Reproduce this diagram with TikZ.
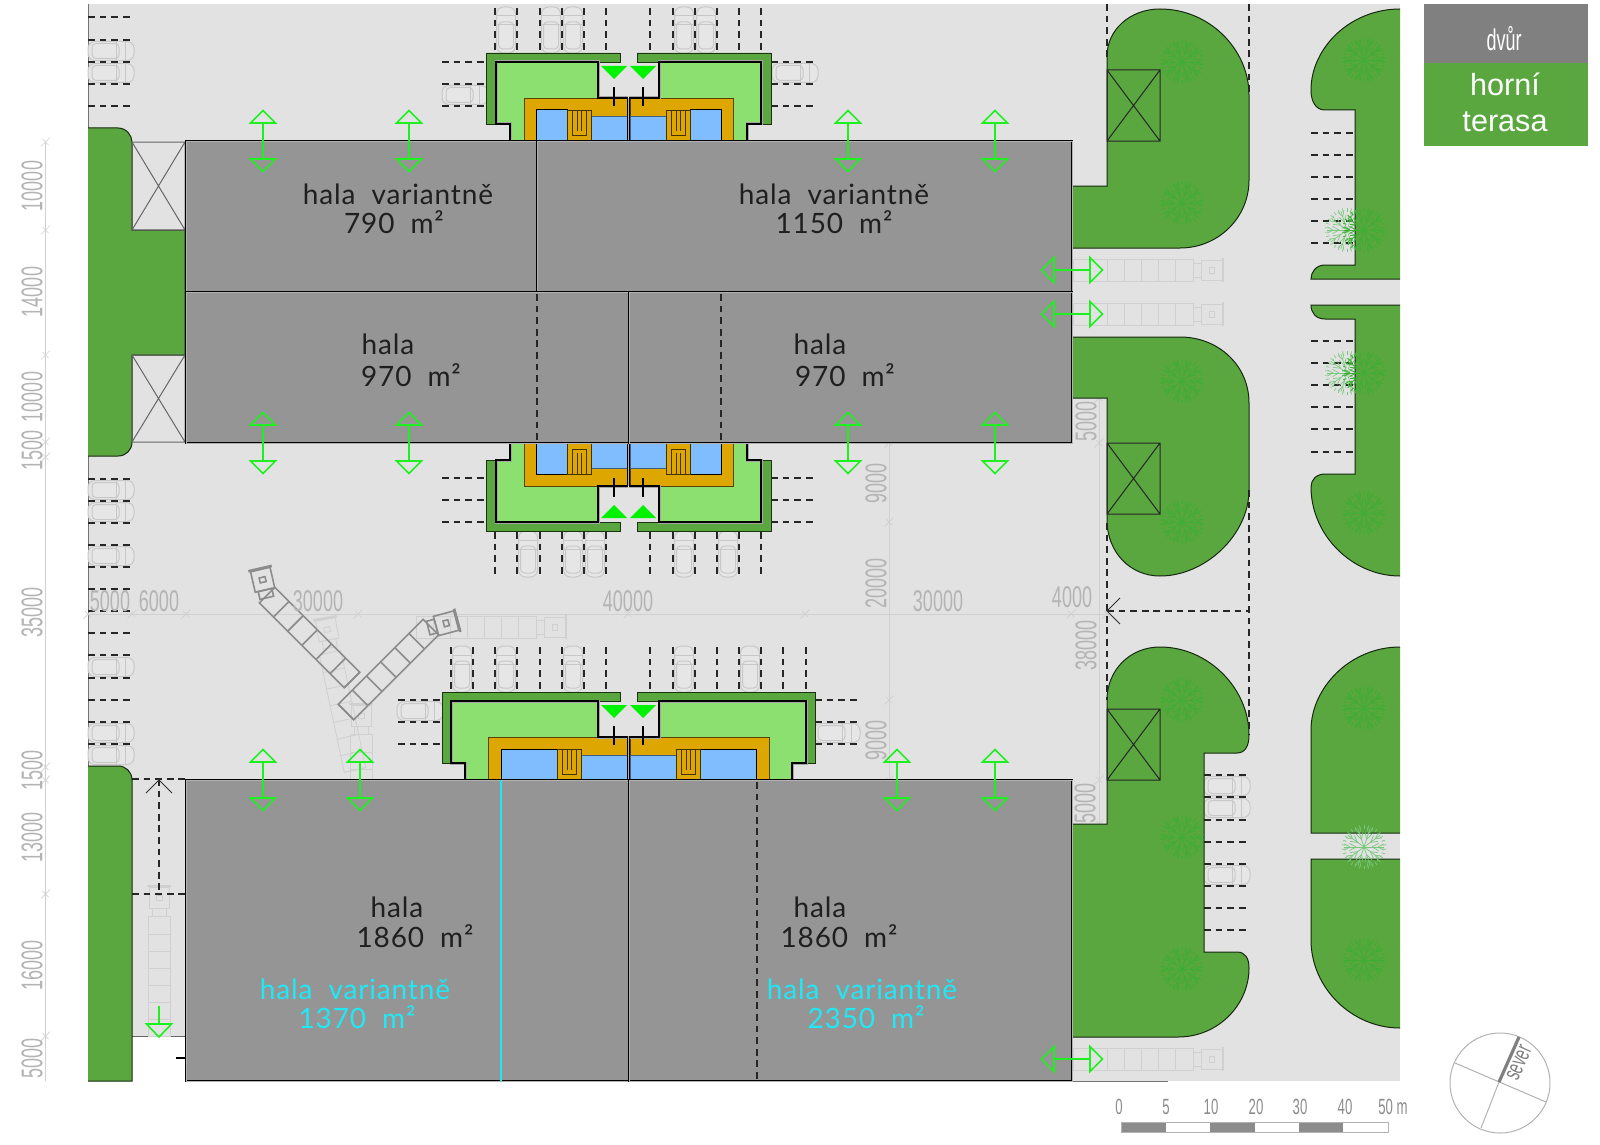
\documentclass[tikz,border=0pt]{standalone}
\usepackage{fontspec}
\newfontfamily\halafont[LetterSpace=3,WordSpace=2]{Lato}
\newfontfamily\kotafont[FakeStretch=0.6]{Liberation Sans}
\setmainfont{Liberation Sans}
\definecolor{plocha}{HTML}{E2E2E2}
\definecolor{zelen}{HTML}{5AA63F}
\definecolor{svetla}{HTML}{8BE070}
\definecolor{oranz}{HTML}{DDA600}
\definecolor{modra}{HTML}{80BDFF}
\definecolor{hala}{HTML}{959595}
\definecolor{sipka}{HTML}{1EEF1E}
\definecolor{kota}{HTML}{B4B4B4}
\definecolor{bleda}{HTML}{D0D0D0}
\definecolor{autoline}{HTML}{C8C8C8}
\definecolor{strom}{HTML}{3FAE35}
\definecolor{bledystrom}{HTML}{78C87C}
\definecolor{cyan}{HTML}{20E8F5}
\tikzset{
park/.style={black!85,line width=.6pt,dash pattern=on 3.4pt off 2.4pt},
zahon/.style={fill=zelen,draw=black!75!zelen,line width=.5pt},
halabox/.style={fill=hala,draw=black,line width=.42pt,double=black!30,double distance=.4pt},
cislo/.style={font=\kotafont\fontsize{15}{15}\selectfont,text=kota,inner sep=0pt},
napis/.style={font=\halafont\fontsize{14}{14}\selectfont,text=black!88,inner sep=0pt},
krizek/.style={line width=.5pt},
dvere/.style={sipka,line width=.8pt},
car/.pic={
\draw[rounded corners=3.5pt,fill=plocha!85!white] (-23,-9.5) rectangle (23,9.5);
\draw[rounded corners=2pt] (-19,-7.5) rectangle (8,7.5);
\draw (5,-9.5) -- (5,9.5) (14,-9) -- (14,9);
},
pics/trailer/.style={code={
\draw (0,-11) rectangle (120,11);
\foreach \k in {0,#1,...,105} \draw (\k,-11) -- (\k,11);
}},
cab/.pic={
\draw (-8,-7) rectangle (0,7);
\draw (0,-10) rectangle (21,10);
\draw[line width=1.3pt] (22,-12) -- (22,12);
\draw (8,-3) rectangle (13,3);
},
truck/.pic={
\pic[transform shape] at (0,0) {trailer=17};
\pic[transform shape] at (128,0) {cab};
},
tree/.pic={
\foreach \a in {0,36,...,324}{
\draw (0,0) -- (\a:20);
\draw (\a:8) -- ({\a+14}:15) (\a:8) -- ({\a-14}:15) (\a:14) -- ({\a+9}:20) (\a:14) -- ({\a-9}:20);
}
\foreach \a in {6,18,...,354} \draw (\a:18.5) -- (\a:22);
},
door/.pic={
\draw[dvere] (0,-18) -- (0,18);
\draw[dvere] (-12.5,-18) -- (12.5,-18) -- (0,-30.5) -- cycle;
\draw[dvere] (-12.5,18) -- (12.5,18) -- (0,30.5) -- cycle;
},
tick/.pic={
\draw[bleda,line width=.35pt] (-4.5,4.5) -- (4.5,-4.5) (-3,-3) -- (3,3);
}
}
% half of an entrance court, left side; y counts up from the hall edge
\newcommand{\courtside}[6]{
\filldraw[fill=zelen,draw=black!70!zelen,line width=.4pt] (#1,-88) -- (620,-88) -- (620,-79) -- (#2,-79) -- (#2,-17) -- (#1,-17) -- cycle;
\fill[svetla] (#2,-79) -- (598,-79) -- (598,-44) -- (628,-44) -- (628,0) -- (#3,0) -- (#3,-17) -- (#2,-17) -- cycle;
\filldraw[fill=oranz,draw=black!60!oranz,line width=.4pt] (#4,-43) rectangle (627,0);
\filldraw[fill=modra,draw=black,line width=.5pt] (#5,-31) rectangle (#6,0);
\filldraw[fill=modra,draw=black!50!modra,line width=.4pt] ({#6+24},-25) rectangle (627,0);
\draw[black!70!oranz,line width=.4pt] (#6,-31) rectangle ({#6+24},0);
\draw[black!70!oranz,line width=.4pt] ({#6+5},-31) -- ({#6+5},-6) -- ({#6+19},-6) -- ({#6+19},-31) ({#6+10},-31) -- ({#6+10},-10) ({#6+14},-31) -- ({#6+14},-10);
\draw[black!35,line width=1.5pt] (#3,0) -- (#3,-17) -- (#2,-17) -- (#2,-79) -- (598,-79) -- (598,-43) -- (628,-43);
\draw[black,line width=.8pt] (#3,0) -- (#3,-17) -- (#2,-17) -- (#2,-79) -- (598,-79) -- (598,-43) -- (628,-43);
\fill[green!95!black] (601,-75) -- (627,-75) -- (614,-62) -- cycle;
\draw[black,line width=.7pt] (614,-54) -- (614,-35);
}
\newcommand{\court}[6]{
\courtside{#1}{#2}{#3}{#4}{#5}{#6}
\begin{scope}[shift={(1257,0)},xscale=-1]
\courtside{#1}{#2}{#3}{#4}{#5}{#6}
\end{scope}
}
\begin{document}
\begin{tikzpicture}[x=.5pt,y=-.5pt]
\useasboundingbox (0,0) rectangle (1600,1145);
% site
\fill[plocha] (88,4) rectangle (1400,1081);
\draw[black!55,line width=.5pt] (88,4) -- (88,768);
\fill[white] (132,1036) rectangle (185,1081);
\draw[black!60,line width=.4pt] (132,1036) -- (185,1036);
\draw[black!55,line width=.5pt] (1072,1081) -- (1168,1081);
% dimension lines
\draw[bleda,line width=.5pt] (45.5,142) -- (45.5,1081);
\draw[bleda,line width=.5pt] (88,614) -- (1107,614);
\draw[bleda,line width=.5pt] (889,443) -- (889,780);
\draw[bleda,line width=.5pt] (1099,398) -- (1099,824);
\foreach \y in {142,230,355,442,457,767,780,894,1036} \pic at (45.5,\y) {tick};
\foreach \x in {88,132,186,358,628,805,1071,1107} \pic at (\x,614) {tick};
\foreach \y in {443,522,700,780} \pic at (889,\y) {tick};
\foreach \y in {398,443,780,824} \pic at (1099,\y) {tick};
% cars
\foreach \x/\y in {111/51,111/73,111/490,111/512,111/556,111/667,111/733,111/755,465/95,795/73,420/711,837/733,1227/786,1227/808,1227/875}
\pic[autoline,line width=.5pt] at (\x,\y) {car};
\foreach \x/\y in {506/30,551/30,573/30,684/30,706/30,528/554,573/554,595/554,684/554,728/554,462/669,506/669,573/669,684/669,750/669}
\pic[autoline,line width=.5pt,rotate=90] at (\x,\y) {car};
% parking
\foreach \y in {17,40,62,84,106,479,501,523,545,567,589,611,633,655,678,700,722,744} \draw[park] (88,\y) -- (133,\y);
\foreach \x in {495,517,540,562,584,606,650,673,695,717,739,761}{
\draw[park] (\x,8) -- (\x,53);
\draw[park] (\x,532) -- (\x,576);
}
\foreach \x in {451,473,495,517,540,562,584,606,650,673,695,717,739,761,783,806} \draw[park] (\x,647) -- (\x,691);
\foreach \y in {62,84,106,478,500,522}{
\draw[park] (442,\y) -- (486,\y);
\draw[park] (771,\y) -- (815,\y);
}
\foreach \y in {700,722,744}{
\draw[park] (398,\y) -- (442,\y);
\draw[park] (815,\y) -- (859,\y);
}
\foreach \y in {775,797,820,842,864,886,908,930} \draw[park] (1204,\y) -- (1249,\y);
\foreach \y in {133,155,177,199,221,243,341,363,385,407,429,452} \draw[park] (1311,\y) -- (1355,\y);
% trucks
\foreach \y in {270,314,1059} \pic[bleda,line width=.4pt] at (1073,\y) {truck};
\pic[bleda,line width=.4pt] at (416,627) {truck};
\pic[bleda,line width=.4pt,rotate=90] at (159,1036) {truck};
\pic[bleda,line width=.4pt,rotate=102] at (355,770) {trailer=17};
\pic[bleda,line width=.4pt,rotate=100] at (329,640) {cab};
\pic[bleda,line width=.4pt,rotate=90] at (361,854) {truck};
\pic[black!45,line width=.8pt,rotate=135] at (352,680) {trailer=20};
\pic[black!45,line width=.8pt,rotate=103] at (265,590) {cab};
\pic[black!45,line width=.8pt,rotate=45] at (346,712) {trailer=20};
\pic[black!45,line width=.8pt,rotate=15] at (436,626) {cab};
% pale trees, partly under the beds
\foreach \x/\y in {1347/230,1347/373}
\pic[bledystrom,line width=.3pt] at (\x,\y) {tree};
% green beds
\filldraw[zahon] (88,128) -- (118,128) .. controls (126,128) and (132,135) .. (132,142) -- (132,230) -- (185,230) -- (185,355) -- (132,355) -- (132,442) .. controls (132,450) and (126,456) .. (118,456) -- (88,456);
\filldraw[zahon] (88,766) -- (118,766) .. controls (126,766) and (132,772) .. (132,780) -- (132,1081) -- (88,1081);
\filldraw[zahon] (1107,56) .. controls (1107,30) and (1130,9) .. (1160,9) .. controls (1210,9) and (1249,50) .. (1249,95) -- (1249,180) .. controls (1249,218) and (1218,248) .. (1180,248) -- (1072,248) -- (1072,186) -- (1107,186) -- cycle;
\filldraw[zahon] (1072,337) -- (1180,337) .. controls (1218,337) and (1249,365) .. (1249,403) -- (1249,490) .. controls (1249,535) and (1205,576) .. (1160,576) .. controls (1130,576) and (1107,552) .. (1107,520) -- (1107,398) -- (1072,398) -- cycle;
\filldraw[zahon] (1072,824) -- (1107,824) -- (1107,700) .. controls (1107,670) and (1130,647) .. (1160,647) .. controls (1208,647) and (1249,688) .. (1249,735) .. controls (1249,746) and (1245,753) .. (1237,753) -- (1204,753) -- (1204,952) -- (1237,952) .. controls (1245,952) and (1249,958) .. (1249,968) .. controls (1249,1005) and (1218,1037) .. (1178,1037) -- (1072,1037) -- cycle;
\filldraw[zahon] (1400,9) .. controls (1350,9) and (1311,48) .. (1311,90) .. controls (1311,102) and (1316,110) .. (1325,110) -- (1355,110) -- (1355,265) -- (1325,265) .. controls (1316,265) and (1311,272) .. (1311,279) -- (1400,279);
\filldraw[zahon] (1400,305) -- (1311,305) .. controls (1311,313) and (1316,319) .. (1325,319) -- (1355,319) -- (1355,474) -- (1325,474) .. controls (1316,474) and (1311,480) .. (1311,487) .. controls (1311,535) and (1352,576) .. (1400,576);
\filldraw[zahon] (1400,647) .. controls (1350,647) and (1311,688) .. (1311,730) -- (1311,833) -- (1400,833);
\filldraw[zahon] (1400,859) -- (1311,859) -- (1311,940) .. controls (1311,988) and (1352,1028) .. (1400,1028);
% trees
\foreach \x/\y in {1182/62,1182/203,1182/381,1182/522,1182/700,1182/837,1182/969,1364/60,1364/230,1364/373,1364/513,1364/708,1364/960}
\pic[strom,line width=.45pt] at (\x,\y) {tree};
\pic[bledystrom,line width=.35pt] at (1364,847) {tree};
% shafts
\foreach \a/\b/\c/\d in {1107/70/1160/141,1107/443/1160/514,1107/709/1160/780}
\draw[krizek,black!85] (\a,\b) rectangle (\c,\d) (\a,\b) -- (\c,\d) (\a,\d) -- (\c,\b);
\foreach \a/\b/\c/\d in {132/142/185/230,132/355/185/442}
\draw[krizek,black!60] (\a,\b) rectangle (\c,\d) (\a,\b) -- (\c,\d) (\a,\d) -- (\c,\b);
% axis and access lines
\draw[park] (1107,4) -- (1107,60);
\draw[park] (1249,4) -- (1249,96);
\draw[park] (1107,523) -- (1107,700);
\draw[park] (1249,490) -- (1249,735);
\draw[park] (1107,611) -- (1249,611);
\draw[black!80,line width=.5pt] (1120,598) -- (1107,611) -- (1120,624);
\draw[park] (132,779) -- (185,779);
\draw[park] (159,779) -- (159,895);
\draw[park] (132,894) -- (185,894);
\draw[black!80,line width=.5pt] (146,793) -- (159,780) -- (172,793);
\draw[black,line width=.7pt] (176,1058) -- (195,1058);
% courts
\begin{scope}[shift={(0,141)}]
\court{486}{496}{510}{524}{536}{567}
\end{scope}
\begin{scope}[shift={(0,443)},yscale=-1]
\court{486}{496}{510}{524}{536}{567}
\end{scope}
\begin{scope}[shift={(0,780)}]
\court{442}{451}{465}{488}{501}{557}
\end{scope}
\draw[black,line width=.5pt,double=black!30,double distance=.8pt] (628.5,98) -- (628.5,141);
\draw[black,line width=.5pt,double=black!30,double distance=.8pt] (628.5,443) -- (628.5,486);
\draw[black,line width=.5pt,double=black!30,double distance=.8pt] (628.5,736) -- (628.5,780);
% halls
\draw[halabox] (186,141) rectangle (537,292);
\draw[halabox] (537,141) rectangle (1072,292);
\draw[halabox] (186,292) rectangle (629,443);
\draw[halabox] (629,292) rectangle (1072,443);
\draw[halabox] (186,780) rectangle (629,1081);
\draw[halabox] (629,780) rectangle (1072,1081);
\draw[park] (537,294) -- (537,441);
\draw[park] (721,294) -- (721,441);
\draw[park] (757,782) -- (757,1079);
\draw[cyan,line width=.7pt] (501,780) -- (501,1081);
% doors
\foreach \x in {263,409,848,995}{
\pic at (\x,141) {door};
\pic at (\x,443) {door};
}
\foreach \x in {263,360,897,995} \pic at (\x,780) {door};
\foreach \y in {270,314,1059} \pic[rotate=90] at (1072,\y) {door};
\draw[dvere] (159,1006) -- (159,1024);
\draw[dvere] (146.5,1024) -- (171.5,1024) -- (159,1037) -- cycle;
% hall labels
\node[napis] (hv1) at (398,194) {hala variantně};
\node[napis] (hv1a) at (394,222) {790 m²};
\node[napis] (hv2) at (834,194) {hala variantně};
\node[napis] (hv2a) at (834,222) {1150 m²};
\node[napis] (h1) at (388,344) {hala};
\node[napis] (h1a) at (411,375) {970 m²};
\node[napis] (h2) at (820,344) {hala};
\node[napis] (h2a) at (845,375) {970 m²};
\node[napis] (h3) at (397,907) {hala};
\node[napis] (h3a) at (415,936) {1860 m²};
\node[napis] (h4) at (820,907) {hala};
\node[napis] (h4a) at (839,936) {1860 m²};
\node[napis,text=cyan] (v3) at (355,989) {hala variantně};
\node[napis,text=cyan] (v3a) at (357,1017) {1370 m²};
\node[napis,text=cyan] (v4) at (862,989) {hala variantně};
\node[napis,text=cyan] (v4a) at (866,1017) {2350 m²};
% dimensions
\node[cislo,rotate=90] (k1) at (32,186) {10000};
\node[cislo,rotate=90] (k2) at (32,292) {14000};
\node[cislo,rotate=90] (k3) at (32,397) {10000};
\node[cislo,rotate=90] (k4) at (32,450) {1500};
\node[cislo,rotate=90] (k5) at (32,612) {35000};
\node[cislo,rotate=90] (k6) at (32,770) {1500};
\node[cislo,rotate=90] (k7) at (32,837) {13000};
\node[cislo,rotate=90] (k8) at (32,965) {16000};
\node[cislo,rotate=90] (k9) at (32,1058) {5000};
\node[cislo] (s1) at (110,601) {5000};
\node[cislo] (s2) at (159,601) {6000};
\node[cislo] (s3) at (318,601) {30000};
\node[cislo] (s4) at (628,601) {40000};
\node[cislo] (s5) at (938,601) {30000};
\node[cislo] (s6) at (1072,597) {4000};
\node[cislo,rotate=90] (v1) at (876,483) {9000};
\node[cislo,rotate=90] (v2) at (876,583) {20000};
\node[cislo,rotate=90] (v5) at (876,740) {9000};
\node[cislo,rotate=90] (p1) at (1086,421) {5000};
\node[cislo,rotate=90] (p2) at (1086,645) {38000};
\node[cislo,rotate=90] (p3) at (1085,803) {5000};
% scale bar
\foreach \a/\b in {1121/1166,1210/1255,1299/1343} \fill[black!45] (\a,1122) rectangle (\b,1132);
\draw[black!30,line width=.4pt] (1121,1122) rectangle (1388,1132);
\foreach \x/\t [count=\n] in {1119/0,1166/5,1211/10,1256/20,1300/30,1345/40,1393/50 m}
\node[font=\kotafont\fontsize{11}{11}\selectfont,text=black!45,inner sep=0pt] (m\n) at (\x,1107) {\t};
% north
\draw[black!30,line width=.5pt] (1500,1083) circle (50);
\draw[black!30,line width=.5pt] (1455,1063) -- (1546,1102) (1481,1128) -- (1499,1082);
\draw[black!50,line width=1.6pt] (1499,1082) -- (1519,1037);
\node[font=\kotafont\fontsize{12}{12}\selectfont,text=black!50,rotate=66,inner sep=0pt] (sever) at (1519,1063) {sever};
% legend
\fill[black!50] (1424,4) rectangle (1588,63);
\fill[zelen] (1424,63) rectangle (1588,146);
\node[font=\kotafont\fontsize{15}{15}\selectfont,text=white,inner sep=0pt] (dvur) at (1504,39) {dvůr};
\node[font=\fontsize{15.3}{15.3}\selectfont,text=white,inner sep=0pt] (horni) at (1505,84) {horní};
\node[font=\fontsize{15.3}{15.3}\selectfont,text=white,inner sep=0pt] (terasa) at (1505,122) {terasa};
\end{tikzpicture}
\end{document}
